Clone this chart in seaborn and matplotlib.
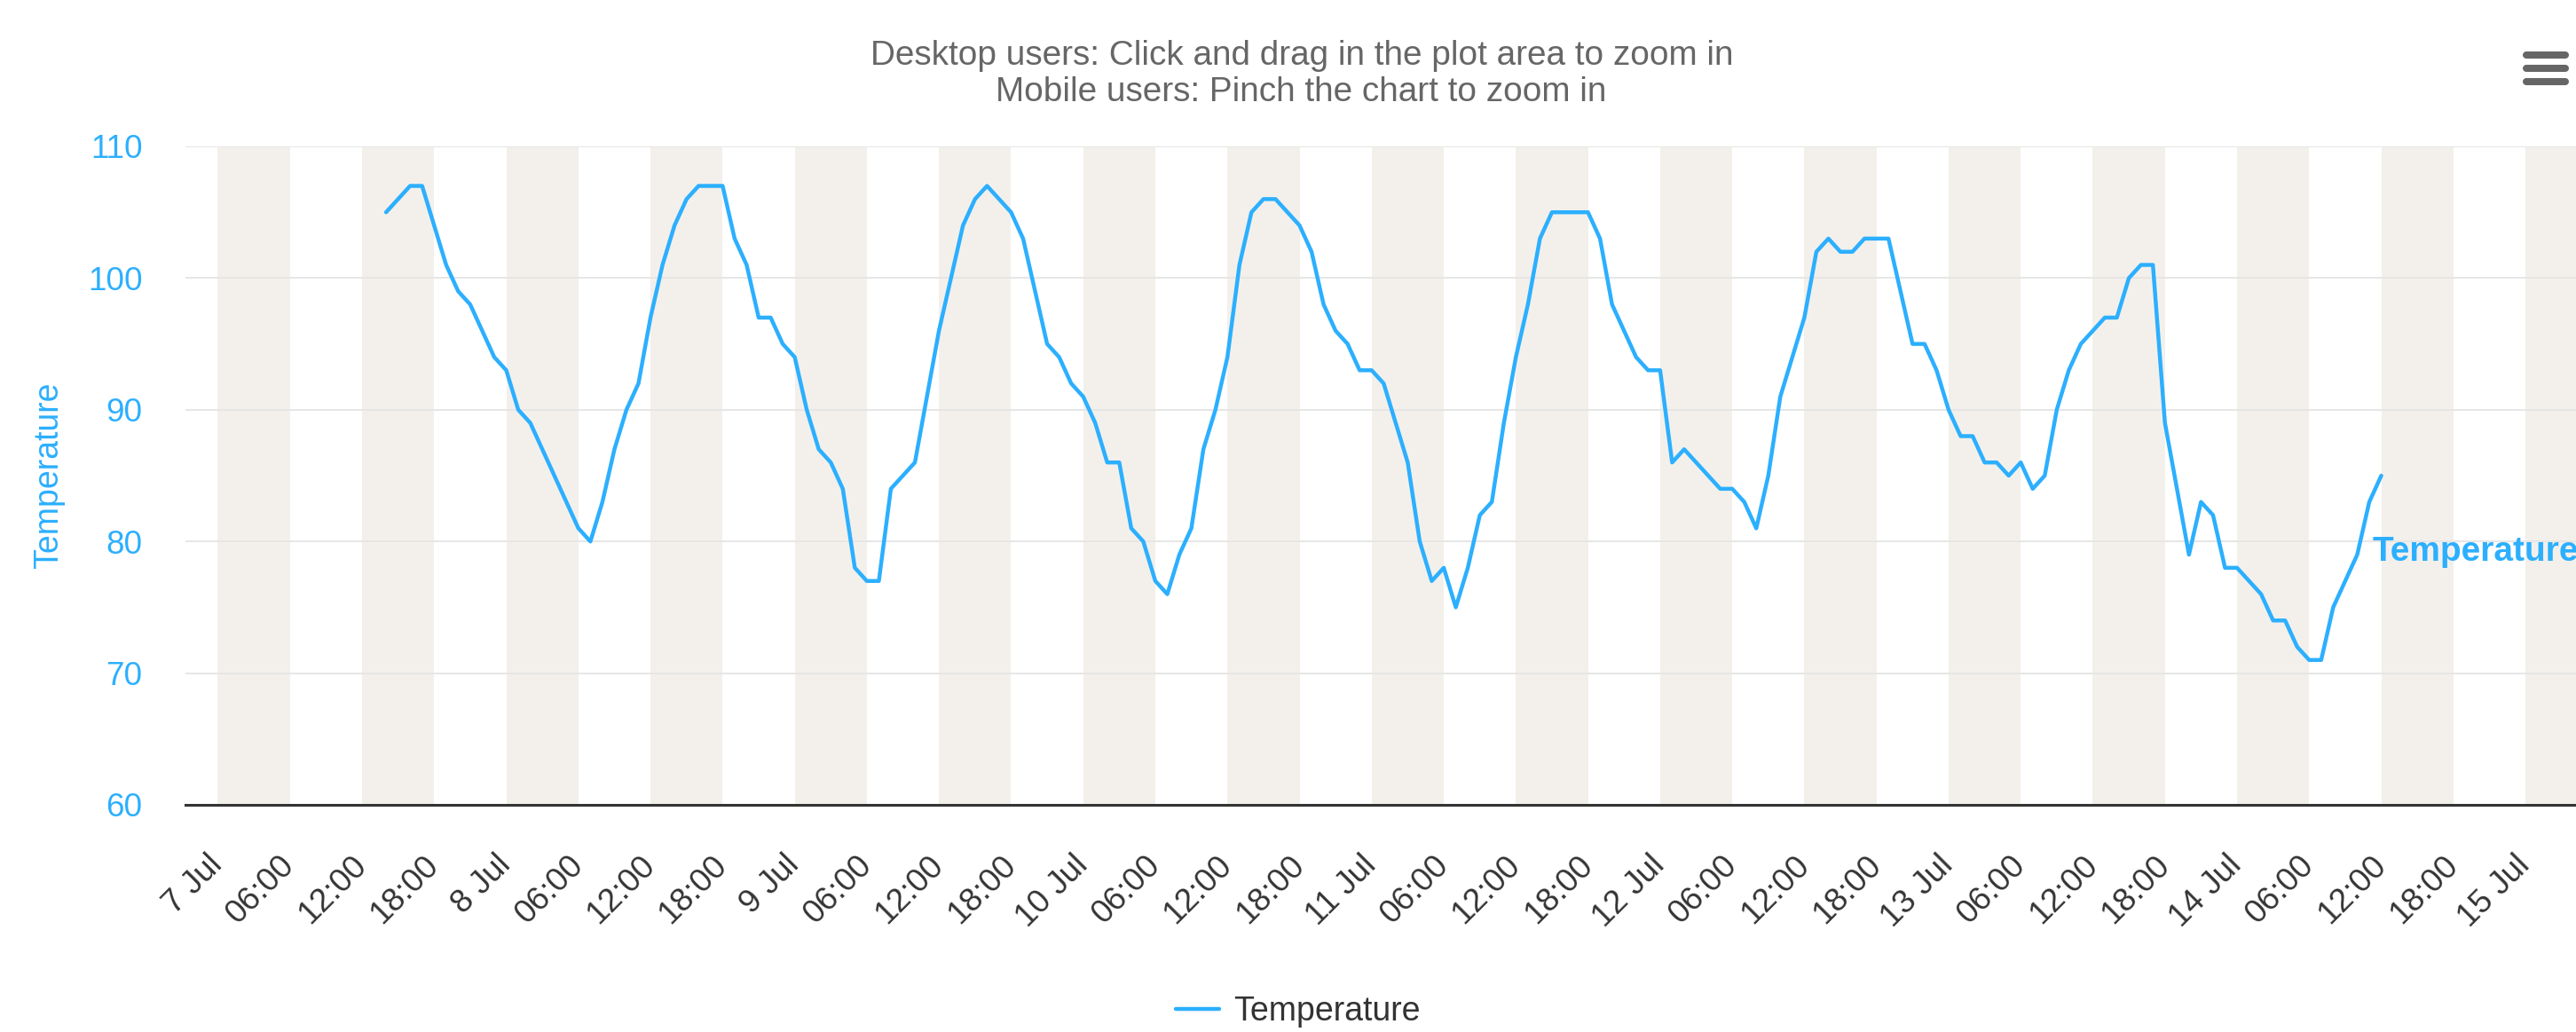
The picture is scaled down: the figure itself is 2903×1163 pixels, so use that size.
"""
温度时间序列折线图
7 Jul - 14 Jul 每小时气温，带昼夜交替的背景色带
"""

import numpy as np
import pandas as pd
import matplotlib
matplotlib.use("Agg")
import matplotlib.pyplot as plt
import matplotlib.dates as mdates
from matplotlib.lines import Line2D
import seaborn as sns

sns.set_style("white")
plt.rcParams["font.family"] = ["Liberation Sans", "DejaVu Sans"]

# 数据：距 7 Jul 00:00 的小时数，以及对应温度
hours = [14, 16, 17, 19, 20, 21, 23, 24, 25, 26, 30, 31, 32, 33, 34, 35, 36,
         37, 38, 39, 40, 42, 43, 44, 45, 46, 47, 48, 49, 50, 51, 52, 53, 54,
         55, 56, 58, 60, 62, 63, 64, 66, 67, 69, 70, 71, 72, 73, 74, 75, 76,
         77, 78, 79, 80, 81, 82, 83, 84, 85, 86, 87, 88, 89, 90, 91, 92, 93,
         94, 95, 96, 97, 99, 100, 101, 102, 103, 104, 105, 106, 107, 108, 109,
         110, 111, 114, 115, 116, 117, 118, 119, 120, 121, 122, 125, 126, 127,
         128, 129, 130, 132, 133, 134, 135, 136, 137, 139, 141, 142, 143, 144,
         145, 146, 147, 148, 149, 150, 151, 152, 153, 154, 155, 156, 157, 158,
         159, 160, 161, 162, 164, 165, 166, 167, 168, 170, 171, 172, 173, 174,
         175, 176, 178, 179, 180]
temps = [105, 107, 107, 101, 99, 98, 94, 93, 90, 89, 81, 80, 83, 87, 90, 92, 97,
         101, 104, 106, 107, 107, 103, 101, 97, 97, 95, 94, 90, 87, 86, 84, 78, 77,
         77, 84, 86, 96, 104, 106, 107, 105, 103, 95, 94, 92, 91, 89, 86, 86, 81,
         80, 77, 76, 79, 81, 87, 90, 94, 101, 105, 106, 106, 105, 104, 102, 98, 96,
         95, 93, 93, 92, 86, 80, 77, 78, 75, 78, 82, 83, 89, 94, 98,
         103, 105, 105, 103, 98, 96, 94, 93, 93, 86, 87, 84, 84, 83,
         81, 85, 91, 97, 102, 103, 102, 102, 103, 103, 95, 95, 93, 90,
         88, 88, 86, 86, 85, 86, 84, 85, 90, 93, 95, 96, 97, 97,
         100, 101, 101, 89, 79, 83, 82, 78, 78, 76, 74, 74, 72, 71,
         71, 75, 79, 83, 85]
y_ticks = [60, 70, 80, 90, 100, 110]

BLUE = "#2caffe"
BAND = "#f3f0eb"
DARK = "#333333"

base = pd.Timestamp("2023-07-07 00:00")
df = pd.DataFrame({
    "time": base + pd.to_timedelta(hours, unit="h"),
    "Temperature": temps,
})

W, H = 2903, 1163
fig = plt.figure(figsize=(W / 100, H / 100), dpi=100)
ax = fig.add_axes([209 / W, 1 - 907 / H, 1 - 209 / W, (907 - 165) / H])

# 背景色带：每天 00-06 与 12-18
for k in range(17):
    start = base + pd.Timedelta(hours=12 * k)
    ax.axvspan(start, start + pd.Timedelta(hours=6), color=BAND, lw=0, zorder=0)

sns.lineplot(data=df, x="time", y="Temperature", ax=ax, color=BLUE, lw=3.2,
             label="Temperature", zorder=3)
for line in ax.lines:
    line.set_solid_joinstyle("round")
    line.set_solid_capstyle("round")

ax.set_xlim(base - pd.Timedelta(hours=2.69), base + pd.Timedelta(hours=196.2))
ax.set_ylim(60, 110)
ax.set_yticks(y_ticks)

ax.xaxis.set_major_locator(mdates.HourLocator(byhour=[0, 6, 12, 18]))


def fmt_time(x, pos=None):
    d = mdates.num2date(x)
    if d.hour == 0:
        return f"{d.day} Jul"
    return d.strftime("%H:%M")


ax.xaxis.set_major_formatter(plt.FuncFormatter(fmt_time))

ax.grid(axis="y", color="#e6e6e6", lw=1.4, zorder=1)
ax.grid(axis="x", visible=False)
for side in ["top", "right", "left"]:
    ax.spines[side].set_visible(False)
ax.spines["bottom"].set_color(DARK)
ax.spines["bottom"].set_linewidth(2.2)
ax.spines["bottom"].set_zorder(4)

ax.tick_params(axis="x", direction="out", length=20, width=1.4, color=DARK,
               pad=25, labelsize=26.6, labelcolor=DARK)
ax.tick_params(axis="y", length=0, pad=35, labelsize=26.6, labelcolor=BLUE)
for lbl in ax.get_xticklabels():
    lbl.set_rotation(45)
    lbl.set_ha("right")
    lbl.set_va("center")
    lbl.set_rotation_mode("anchor")

ax.set_xlabel("")
ax.set_ylabel("Temperature", color=BLUE, fontsize=27)
ax.yaxis.set_label_coords(-0.0505, 0.5)

# 序列末端标签
ax.text(base + pd.Timedelta(hours=179.3), 79.2, "Temperature", color=BLUE,
        fontsize=28, fontweight="bold", ha="left", va="center", clip_on=False,
        zorder=5)

# 图例
ax.legend(loc="center", bbox_to_anchor=(1463 / W, 1 - 1140 / H),
          bbox_transform=fig.transFigure, frameon=False, fontsize=27,
          handlelength=1.31, handletextpad=0.43, labelcolor=DARK)

# 副标题
fig.text(1467 / W, 1 - 73 / H,
         "Desktop users: Click and drag in the plot area to zoom in",
         ha="center", va="baseline", fontsize=27.9, color="#666666")
fig.text(1466 / W, 1 - 114 / H, "Mobile users: Pinch the chart to zoom in",
         ha="center", va="baseline", fontsize=27.9, color="#666666")

# 右上角菜单图标
for y in [62, 77, 92]:
    fig.add_artist(Line2D([2847 / W, 2891 / W], [1 - y / H, 1 - y / H],
                          transform=fig.transFigure, color="#666666", lw=5.8,
                          solid_capstyle="round"))

fig.savefig("out.png", dpi=100)
plt.close(fig)
